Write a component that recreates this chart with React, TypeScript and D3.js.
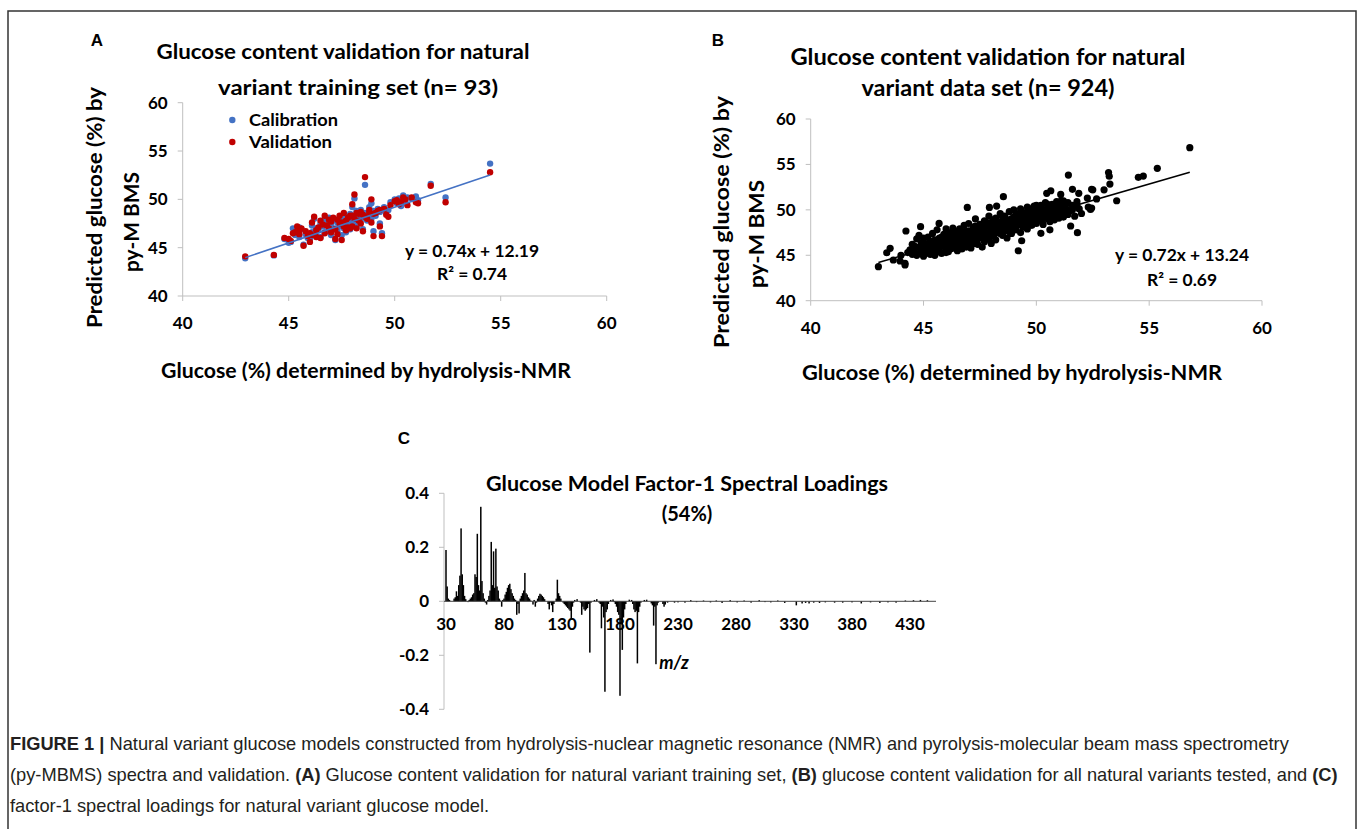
import * as d3 from "d3";
import { useLayoutEffect, useRef, useState } from "react";

// ---- Panel A: training set (x = NMR glucose, calibration / validation predictions)
const trainNmr = [
  42.95, 44.3, 44.8, 45.0, 45.1, 45.2, 45.3, 45.4, 45.5, 45.6, 45.7, 45.8, 45.9, 46.0, 46.1, 46.1,
  46.2, 46.3, 46.3, 46.4, 46.5, 46.5, 46.6, 46.7, 46.7, 46.8, 46.9, 46.9, 47.0, 47.0, 47.1, 47.2,
  47.2, 47.3, 47.3, 47.4, 47.4, 47.5, 47.5, 47.6, 47.6, 47.7, 47.7, 47.8, 47.8, 47.9, 47.9, 48.0,
  48.0, 48.1, 48.1, 48.2, 48.2, 48.3, 48.3, 48.4, 48.4, 48.5, 48.5, 48.6, 48.6, 48.7, 48.8, 48.8,
  48.9, 48.9, 49.0, 49.0, 49.1, 49.2, 49.3, 49.3, 49.4, 49.5, 49.6, 49.7, 49.8, 50.0, 50.1, 50.2,
  50.3, 50.4, 50.5, 50.6, 50.8, 51.0, 51.1, 51.7, 52.4, 54.5, 46.0, 45.5, 48.0,
];
const trainCalibration = [
  43.9, 44.2, 45.9, 45.5, 45.6, 47.0, 46.3, 46.8, 46.1, 46.9, 45.3, 46.4, 46.0, 46.3, 47.3, 46.6,
  48.0, 46.2, 47.0, 46.8, 47.5, 46.1, 47.2, 48.0, 46.6, 47.6, 46.9, 48.1, 47.4, 46.3, 47.8, 47.0,
  45.8, 47.6, 46.7, 48.1, 47.2, 47.8, 46.3, 48.4, 47.0, 47.5, 46.6, 47.9, 47.3, 48.5, 46.9, 48.0,
  47.4, 50.1, 47.7, 48.8, 47.2, 48.3, 47.6, 48.9, 47.9, 46.9, 48.2, 51.5, 48.6, 47.8, 49.2, 48.4,
  48.0, 49.6, 46.7, 48.8, 48.3, 49.0, 47.5, 48.7, 46.5, 49.2, 48.7, 48.9, 49.7, 50.0, 49.6, 50.1,
  49.3, 50.4, 49.8, 50.2, 50.1, 50.3, 49.9, 51.6, 50.2, 53.7, 45.9, 47.1, 49.2,
];
const trainValidation = [
  44.1, 44.25, 46.0, 45.9, 45.7, 46.5, 46.6, 47.2, 46.4, 47.0, 45.2, 46.7, 46.2, 46.5, 47.6, 46.3,
  48.2, 46.1, 46.8, 47.1, 47.8, 46.0, 47.4, 48.3, 46.5, 47.3, 47.0, 47.9, 47.7, 46.6, 48.1, 46.9,
  45.9, 47.9, 46.4, 48.3, 47.5, 47.6, 45.8, 48.6, 47.2, 47.8, 46.8, 48.1, 47.1, 48.3, 47.0, 48.3,
  47.2, 50.5, 48.0, 48.6, 47.0, 48.5, 47.8, 48.7, 47.5, 46.7, 48.4, 52.3, 48.2, 48.0, 48.9, 48.6,
  47.6, 50.0, 46.2, 48.5, 48.6, 48.8, 47.2, 48.9, 46.2, 49.0, 48.4, 48.2, 49.4, 49.8, 49.9, 49.5,
  49.7, 50.2, 50.0, 49.4, 50.2, 49.7, 49.6, 51.4, 49.7, 52.8, 45.6, 46.8, 49.5,
];
const fitA = { slope: 0.74, intercept: 12.19, r2: 0.74 };

// ---- Panel B: all natural variants [NMR glucose, predicted glucose]
const allVariants: [number, number][] = [
  [44.4, 45.6], [44.5, 45.1], [44.5, 46.2], [44.6, 45.4], [44.7, 46.8], [44.7, 45.0], [44.8, 45.9],
  [44.8, 47.2], [44.9, 45.3], [44.9, 46.4], [45.0, 45.8], [45.0, 44.9], [45.0, 46.9],
  [45.1, 46.2], [45.1, 45.2], [45.2, 47.0], [45.2, 45.7], [45.3, 46.5], [45.3, 45.1], [45.4, 46.0],
  [45.4, 47.4], [45.5, 45.5], [45.5, 46.7], [45.5, 45.0], [45.6, 46.3], [45.6, 47.8], [45.7, 45.4],
  [45.7, 46.9], [45.8, 46.1], [45.8, 45.2], [45.9, 47.3], [45.9, 46.6], [46.0, 45.6], [46.0, 46.2],
  [46.0, 47.9], [46.1, 46.9], [46.1, 45.4], [46.2, 47.5], [46.2, 46.1], [46.3, 45.8], [46.3, 48.0],
  [46.4, 46.7], [46.4, 47.2], [46.5, 45.5], [46.5, 46.4], [46.6, 47.9], [46.6, 47.0], [46.7, 46.2],
  [46.7, 45.7], [46.8, 47.6], [46.8, 48.3], [46.9, 46.6], [46.9, 45.9], [47.0, 47.3], [47.0, 48.5],
  [47.0, 46.4], [47.1, 47.0], [47.1, 45.8], [47.2, 48.1], [47.2, 46.6], [47.3, 47.6], [47.3, 49.0],
  [47.4, 46.2], [47.4, 47.3], [47.5, 48.4], [47.5, 46.9], [47.6, 47.8], [47.6, 45.9], [47.7, 48.8],
  [47.7, 46.5], [47.8, 47.4], [47.8, 48.2], [47.9, 46.8], [47.9, 49.3], [48.0, 47.6], [48.0, 48.6],
  [48.0, 46.3], [48.1, 48.1], [48.1, 47.1], [48.2, 49.1], [48.2, 46.7], [48.3, 48.4], [48.3, 47.5],
  [48.4, 49.6], [48.4, 48.0], [48.5, 47.2], [48.5, 48.8], [48.6, 49.3], [48.6, 47.7], [48.7, 48.4],
  [48.7, 46.9], [48.8, 49.8], [48.8, 48.0], [48.9, 48.7], [48.9, 47.4], [49.0, 49.2], [49.0, 48.2],
  [49.0, 50.0], [49.1, 47.8], [49.1, 48.9], [49.2, 49.6], [49.2, 48.4], [49.3, 47.5], [49.3, 50.1],
  [49.4, 49.0], [49.4, 48.1], [49.5, 49.7], [49.5, 48.6], [49.6, 50.3], [49.6, 47.9], [49.7, 49.3],
  [49.7, 48.8], [49.8, 50.0], [49.8, 48.3], [49.9, 49.6], [49.9, 50.4], [50.0, 49.1], [50.0, 48.5],
  [50.0, 50.2], [50.1, 49.8], [50.1, 48.8], [50.2, 50.5], [50.2, 49.3], [50.3, 48.4], [50.3, 50.0],
  [50.4, 49.6], [50.4, 50.8], [50.5, 49.0], [50.5, 50.3], [50.6, 49.7], [50.6, 48.7], [50.7, 50.6],
  [50.7, 49.4], [50.8, 50.1], [50.8, 48.9], [50.9, 50.9], [50.9, 49.6], [51.0, 50.3], [51.0, 49.1],
  [51.1, 50.7], [51.1, 49.8], [51.2, 49.2], [51.2, 51.0], [51.3, 50.2], [51.4, 49.5], [51.4, 50.8],
  [51.5, 49.9], [51.6, 50.5], [51.7, 49.3], [51.8, 50.9], [51.9, 50.1], [52.0, 49.6],
  [45.2, 46.3], [45.6, 45.8], [45.9, 46.0], [46.2, 46.6], [46.5, 47.0], [46.8, 46.9], [47.1, 47.4],
  [47.4, 47.7], [47.7, 47.9], [48.0, 48.0], [48.3, 48.2], [48.6, 48.3], [48.9, 48.5], [49.2, 48.8],
  [49.5, 49.1], [49.8, 49.3], [50.1, 49.4], [50.4, 49.9], [50.7, 50.0], [51.0, 50.6],
  [45.4, 45.6], [45.7, 46.4], [46.0, 46.8], [46.3, 46.3], [46.6, 46.6], [46.9, 47.2], [47.2, 47.1],
  [47.5, 47.5], [47.8, 48.6], [48.1, 47.7], [48.4, 48.6], [48.7, 47.9], [49.0, 48.7], [49.3, 49.3],
  [49.6, 49.0], [49.9, 48.9], [50.2, 49.8], [50.5, 49.7], [50.8, 49.5],
  [46.1, 46.0], [46.4, 45.9], [46.7, 47.3], [47.0, 46.7], [47.3, 46.3], [47.6, 48.3], [47.9, 47.2],
  [48.2, 48.5], [48.5, 49.2], [48.8, 48.9], [49.1, 49.5], [49.4, 49.4], [49.7, 50.1], [50.0, 49.6],
  [50.3, 49.1],
  [45.3, 45.4], [45.5, 46.1], [45.8, 46.6], [46.0, 45.3], [46.2, 45.7], [46.4, 46.4], [46.6, 46.0],
  [46.8, 46.4], [47.0, 47.7], [47.2, 47.6], [47.4, 46.8], [47.6, 47.2], [47.8, 46.9], [48.0, 47.3],
  [48.2, 47.9], [48.4, 47.4], [48.6, 48.7], [48.8, 47.6], [49.0, 47.9], [49.2, 49.1], [49.4, 48.7],
  [49.6, 48.5], [49.8, 49.7], [50.0, 50.5], [50.2, 49.0], [50.4, 49.3], [50.6, 50.1], [50.8, 50.4],
  [51.0, 49.9], [51.2, 50.5],
  [45.1, 45.9], [45.4, 46.5], [45.7, 45.7], [46.0, 46.5], [46.3, 47.0], [46.6, 46.3], [46.9, 47.6],
  [47.2, 46.3], [47.5, 48.0], [47.8, 47.0], [48.1, 48.9], [48.4, 47.7], [48.7, 48.1], [49.0, 48.4],
  [49.3, 48.9], [49.6, 49.6], [49.9, 49.2], [50.2, 50.2], [50.5, 50.6], [50.8, 49.8],
  [44.6, 46.0], [44.9, 45.7], [45.2, 45.4], [45.8, 47.0], [46.1, 47.2], [46.5, 47.6], [46.9, 46.1],
  [47.3, 48.2], [47.7, 47.2], [48.1, 47.4], [48.5, 47.9], [48.9, 49.0], [49.3, 48.6], [49.7, 48.5],
  [50.1, 50.0], [50.5, 49.4], [50.9, 50.2], [51.3, 49.9], [51.6, 50.0], [51.8, 50.4],
  // scattered points and outliers
  [56.8, 56.84], [55.36, 54.57], [54.74, 53.72], [54.52, 53.58], [53.2, 54.1], [53.23, 53.7],
  [51.42, 53.83], [52.45, 52.26], [52.5, 52.2], [51.6, 52.26], [51.88, 51.82], [53.26, 52.84],
  [53.0, 52.2], [53.56, 51.0], [52.67, 51.2], [52.3, 50.3], [52.45, 50.2], [52.4, 50.05],
  [52.26, 51.3], [51.52, 48.22], [51.82, 47.49], [50.2, 47.42], [49.35, 46.6], [49.2, 45.5],
  [48.54, 51.45], [48.24, 50.42], [47.92, 50.27], [46.94, 50.27], [45.69, 48.51], [44.87, 48.15],
  [44.22, 47.67], [43.52, 45.76], [43.37, 45.28], [43.0, 43.74], [43.66, 44.48], [43.96, 44.37],
  [44.18, 44.11], [44.18, 43.93], [44.7, 45.14], [44.3, 45.3], [50.46, 51.82], [50.64, 52.1],
  [51.08, 51.7], [51.1, 51.0], [51.2, 49.9], [51.35, 49.75], [50.6, 47.8], [44.0, 45.0],
];
const fitB = { slope: 0.72, intercept: 13.24, r2: 0.69 };

// ---- Panel C: factor-1 spectral loadings (m/z, loading); unlisted m/z are ~0
const loadMz = [
  30, 31, 32, 33, 37, 38, 39, 40, 41, 42, 43, 44, 45, 46, 47, 49,
  50, 51, 52, 53, 54, 55, 56, 57, 58, 59, 60, 61, 62, 63, 64, 65,
  66, 67, 68, 69, 70, 71, 72, 73, 74, 75, 76, 77, 78, 79,
  80, 81, 82, 83, 84, 85, 86, 87, 88, 89, 90, 91, 92, 93,
  94, 95, 96, 97, 98, 99, 100, 101, 102, 103, 105, 106, 107, 108,
  109, 110, 111, 112, 113, 114, 115, 118, 119, 120, 121, 122, 123,
  125, 126, 127, 128, 129, 131, 132, 133, 134, 135, 136, 137, 138, 139, 140, 141, 143,
  146, 147, 148, 149, 150, 151, 152, 153, 154, 155, 158, 160,
  162, 163, 164, 165, 166, 167, 168, 169, 170, 172, 174, 175,
  176, 177, 178, 179, 180, 181, 182, 183, 184, 185, 188, 190,
  191, 192, 193, 194, 195, 196, 197, 198, 201, 203,
  207, 208, 209, 210, 211, 212, 213, 217, 218, 219, 221, 227, 230,
  236, 241, 246, 252, 258, 263, 268, 275, 281, 287, 293, 300, 305, 310, 316, 322, 332,
  337, 340, 343, 347, 352, 357, 365, 372, 380, 388, 396, 404, 411, 418, 426, 433, 439, 445,
];
const loadValue = [
  0.19, 0.055, 0.01, 0.005, 0.01, 0.015, 0.037, 0.02, 0.06, 0.095, 0.27, 0.1, 0.06, 0.02, 0.008, -0.003,
  0.005, 0.01, 0.015, 0.025, 0.03, 0.1, 0.09, 0.25, 0.06, 0.04, 0.35, 0.075, 0.03, 0.01, -0.005, -0.012,
  0.005, 0.02, 0.04, 0.22, 0.06, 0.185, 0.05, 0.195, 0.055, 0.04, 0.01, 0.003, -0.02, 0.005,
  0.01, 0.025, 0.035, 0.05, 0.06, 0.065, 0.045, 0.03, 0.02, 0.01, 0.005, -0.05, -0.01, -0.045,
  0.01, 0.02, 0.03, 0.04, 0.105, 0.03, 0.025, 0.015, 0.01, 0.003, -0.012, 0.005, -0.02, -0.005,
  0.01, 0.02, 0.028, 0.025, 0.02, 0.015, 0.008, -0.01, -0.03, -0.005, -0.015, -0.04, -0.01,
  0.01, 0.08, 0.03, 0.02, 0.01, -0.005, -0.01, -0.015, -0.02, -0.025, -0.03, -0.035, -0.065, -0.02, -0.005, 0.005, 0.008,
  -0.005, -0.05, -0.02, -0.03, -0.035, -0.03, -0.025, -0.01, -0.19, -0.005, 0.005, 0.008,
  -0.005, -0.01, -0.1, -0.02, -0.06, -0.335, -0.04, -0.03, -0.01, 0.005, 0.007, -0.003,
  -0.01, -0.02, -0.04, -0.05, -0.35, -0.08, -0.18, -0.06, -0.03, -0.01, 0.006, 0.005,
  -0.01, -0.03, -0.04, -0.035, -0.23, -0.04, -0.02, -0.005, 0.005, 0.006,
  -0.008, -0.015, -0.09, -0.02, -0.233, -0.015, -0.005, -0.01, -0.02, -0.012, -0.005, -0.005, -0.004,
  -0.005, 0.004, -0.003, 0.003, -0.004, 0.003, -0.006, 0.004, -0.004, 0.003, -0.005, 0.004, -0.003, -0.004, 0.003, -0.006, -0.015,
  -0.008, -0.006, -0.008, -0.005, -0.006, -0.004, -0.005, -0.005, -0.004, -0.008, -0.004, -0.006, -0.004, -0.005, 0.003, 0.004, 0.005, 0.004,
];

const scatterTicks = [40, 45, 50, 55, 60];
const loadTicksY = [0.4, 0.2, 0, -0.2, -0.4];
const loadTicksX = [30, 80, 130, 180, 230, 280, 330, 380, 430];

const FONT = "Lato, 'Open Sans', sans-serif";
const AXIS_GRAY = "#bfbfbf";
const CAPTION_WIDTH = 1280; // width of the first caption line in the reference

type ScatterAxesProps = {
  x: d3.ScaleLinear<number, number>;
  y: d3.ScaleLinear<number, number>;
};

function ScatterAxes({ x, y }: ScatterAxesProps) {
  const x0 = x(40);
  const y0 = y(40);
  return (
    <g>
      <line x1={x0} x2={x0} y1={y(60)} y2={y0} stroke={AXIS_GRAY} />
      <line x1={x0} x2={x(60)} y1={y0} y2={y0} stroke={AXIS_GRAY} />
      {scatterTicks.map((t) => (
        <g key={"y" + t}>
          <line x1={x0 - 5} x2={x0} y1={y(t)} y2={y(t)} stroke={AXIS_GRAY} />
          <text x={x0 - 15} y={y(t)} dy="0.35em" textAnchor="end" fontSize={17} fontWeight="bold">
            {t}
          </text>
        </g>
      ))}
      {scatterTicks.map((t) => (
        <g key={"x" + t}>
          <line x1={x(t)} x2={x(t)} y1={y0} y2={y0 + 5} stroke={AXIS_GRAY} />
          <text x={x(t)} y={y0 + 27} dy="0.35em" textAnchor="middle" fontSize={17} fontWeight="bold">
            {t}
          </text>
        </g>
      ))}
    </g>
  );
}

export default function App() {
  // caption is squeezed horizontally to mimic the condensed journal font
  const firstLine = useRef<SVGTextElement>(null);
  const [captionScale, setCaptionScale] = useState(1);
  useLayoutEffect(() => {
    if (!firstLine.current) return;
    const w = firstLine.current.getComputedTextLength();
    if (w > 0) setCaptionScale(CAPTION_WIDTH / w);
  }, []);

  // panel A
  const xA = d3.scaleLinear().domain([40, 60]).range([182.7, 606.7]);
  const yA = d3.scaleLinear().domain([40, 60]).range([296, 102.7]);
  const extA = d3.extent(trainNmr) as [number, number];
  const lineA = d3
    .line<number>()
    .x((d) => xA(d))
    .y((d) => yA(fitA.slope * d + fitA.intercept));

  // panel B
  const xB = d3.scaleLinear().domain([40, 60]).range([810.7, 1262]);
  const yB = d3.scaleLinear().domain([40, 60]).range([300.7, 119]);
  const extB = d3.extent(allVariants, (d) => d[0]) as [number, number];
  const lineB = d3
    .line<number>()
    .x((d) => xB(d))
    .y((d) => yB(fitB.slope * d + fitB.intercept));

  // panel C
  const xC = d3.scaleLinear().domain([30, 450]).range([446, 933.2]);
  const yC = d3.scaleLinear().domain([-0.4, 0.4]).range([709.3, 493.3]);
  const zeroY = yC(0);
  const barW = 1.5;

  return (
    <svg
      width={1358}
      height={829}
      style={{ position: "absolute", left: 0, top: 0, background: "#fff" }}
      fontFamily={FONT}
    >
      <rect x={8} y={11} width={1348} height={840} fill="none" stroke="#333" strokeWidth={1.5} />

      {/* ---------- Panel A ---------- */}
      <text x={97} y={40} dy="0.35em" textAnchor="middle" fontFamily="'Liberation Sans', Arial" fontWeight="bold" fontSize={17}>
        A
      </text>
      <text x={343} y={52} dy="0.35em" textAnchor="middle" fontWeight="bold" fontSize={21} textLength={373} lengthAdjust="spacingAndGlyphs">
        Glucose content validation for natural
      </text>
      <text x={358} y={88} dy="0.35em" textAnchor="middle" fontWeight="bold" fontSize={21} textLength={280} lengthAdjust="spacingAndGlyphs">
        variant training set (n= 93)
      </text>
      <ScatterAxes x={xA} y={yA} />
      <text transform="translate(95,207.5) rotate(-90)" dy="0.35em" textAnchor="middle" fontWeight="bold" fontSize={21} textLength={241} lengthAdjust="spacingAndGlyphs">
        Predicted glucose (%) by
      </text>
      <text transform="translate(132,222) rotate(-90)" dy="0.35em" textAnchor="middle" fontWeight="bold" fontSize={21} textLength={100} lengthAdjust="spacingAndGlyphs">
        py-M BMS
      </text>
      <text x={366} y={371} dy="0.35em" textAnchor="middle" fontWeight="bold" fontSize={21} textLength={410} lengthAdjust="spacingAndGlyphs">
        Glucose (%) determined by hydrolysis-NMR
      </text>
      {trainNmr.map((v, i) => (
        <circle key={"c" + i} cx={xA(v)} cy={yA(trainCalibration[i])} r={3.2} fill="#4472C4" />
      ))}
      {trainNmr.map((v, i) => (
        <circle key={"v" + i} cx={xA(v)} cy={yA(trainValidation[i])} r={3.2} fill="#C00000" />
      ))}
      <path d={lineA(extA) || ""} fill="none" stroke="#4472C4" strokeWidth={1.5} />
      <circle cx={232.3} cy={120} r={3.2} fill="#4472C4" />
      <text x={249} y={120} dy="0.35em" fontWeight="bold" fontSize={17} textLength={89} lengthAdjust="spacingAndGlyphs">
        Calibration
      </text>
      <circle cx={232.3} cy={142} r={3.2} fill="#C00000" />
      <text x={249} y={142} dy="0.35em" fontWeight="bold" fontSize={17} textLength={83} lengthAdjust="spacingAndGlyphs">
        Validation
      </text>
      <text x={472} y={251} dy="0.35em" textAnchor="middle" fontWeight="bold" fontSize={17} textLength={134} lengthAdjust="spacingAndGlyphs">
        {`y = ${fitA.slope}x + ${fitA.intercept}`}
      </text>
      <text x={472} y={274} dy="0.35em" textAnchor="middle" fontWeight="bold" fontSize={17} textLength={70} lengthAdjust="spacingAndGlyphs">
        {`R² = ${fitA.r2}`}
      </text>

      {/* ---------- Panel B ---------- */}
      <text x={718} y={40} dy="0.35em" textAnchor="middle" fontFamily="'Liberation Sans', Arial" fontWeight="bold" fontSize={17}>
        B
      </text>
      <text x={988} y={57} dy="0.35em" textAnchor="middle" fontWeight="bold" fontSize={22} textLength={395} lengthAdjust="spacingAndGlyphs">
        Glucose content validation for natural
      </text>
      <text x={988} y={88} dy="0.35em" textAnchor="middle" fontWeight="bold" fontSize={22} textLength={253} lengthAdjust="spacingAndGlyphs">
        variant data set (n= 924)
      </text>
      <ScatterAxes x={xB} y={yB} />
      <text transform="translate(722,222) rotate(-90)" dy="0.35em" textAnchor="middle" fontWeight="bold" fontSize={21} textLength={252} lengthAdjust="spacingAndGlyphs">
        Predicted glucose (%) by
      </text>
      <text transform="translate(757,234) rotate(-90)" dy="0.35em" textAnchor="middle" fontWeight="bold" fontSize={21} textLength={108} lengthAdjust="spacingAndGlyphs">
        py-M BMS
      </text>
      <text x={1012} y={373} dy="0.35em" textAnchor="middle" fontWeight="bold" fontSize={21} textLength={420} lengthAdjust="spacingAndGlyphs">
        Glucose (%) determined by hydrolysis-NMR
      </text>
      {allVariants.map((d, i) => (
        <circle key={"b" + i} cx={xB(d[0])} cy={yB(d[1])} r={3.6} fill="#000" />
      ))}
      <path d={lineB(extB) || ""} fill="none" stroke="#000" strokeWidth={1.5} />
      <text x={1182} y={255} dy="0.35em" textAnchor="middle" fontWeight="bold" fontSize={17} textLength={134} lengthAdjust="spacingAndGlyphs">
        {`y = ${fitB.slope}x + ${fitB.intercept}`}
      </text>
      <text x={1182} y={280} dy="0.35em" textAnchor="middle" fontWeight="bold" fontSize={17} textLength={70} lengthAdjust="spacingAndGlyphs">
        {`R² = ${fitB.r2}`}
      </text>

      {/* ---------- Panel C ---------- */}
      <text x={404} y={438} dy="0.35em" textAnchor="middle" fontFamily="'Liberation Sans', Arial" fontWeight="bold" fontSize={17}>
        C
      </text>
      <text x={687} y={484} dy="0.35em" textAnchor="middle" fontWeight="bold" fontSize={20} textLength={402} lengthAdjust="spacingAndGlyphs">
        Glucose Model Factor-1 Spectral Loadings
      </text>
      <text x={687} y={514} dy="0.35em" textAnchor="middle" fontWeight="bold" fontSize={20}>
        (54%)
      </text>
      <line x1={444} x2={444} y1={yC(0.4)} y2={yC(-0.4)} stroke={AXIS_GRAY} />
      {loadTicksY.map((t) => (
        <g key={"cy" + t}>
          <line x1={439} x2={444} y1={yC(t)} y2={yC(t)} stroke={AXIS_GRAY} />
          <text x={429} y={yC(t)} dy="0.35em" textAnchor="end" fontWeight="bold" fontSize={17}>
            {String(t)}
          </text>
        </g>
      ))}
      {loadMz.map((mz, i) => {
        const yv = yC(loadValue[i]);
        return (
          <rect
            key={"s" + i}
            x={xC(mz) - barW / 2}
            y={Math.min(yv, zeroY)}
            width={barW}
            height={Math.max(Math.abs(yv - zeroY), 0.8)}
            fill="#000"
          />
        );
      })}
      <line x1={444} x2={936} y1={zeroY} y2={zeroY} stroke="#444" strokeWidth={1} />
      {loadTicksX.map((t) => (
        <text key={"cx" + t} x={xC(t)} y={624} dy="0.35em" textAnchor="middle" fontWeight="bold" fontSize={17}>
          {t}
        </text>
      ))}
      <text x={674} y={663} dy="0.35em" textAnchor="middle" fontWeight="bold" fontStyle="italic" fontSize={18}>
        m/z
      </text>

      {/* ---------- Caption ---------- */}
      <g
        transform={`translate(10,0) scale(${captionScale},1)`}
        fontFamily="'Liberation Sans', Arial, sans-serif"
        fontSize={19}
        fill="#231f20"
      >
        <text ref={firstLine} x={0} y={750}>
          <tspan fontWeight="bold">FIGURE 1 |</tspan> Natural variant glucose models constructed from hydrolysis-nuclear magnetic resonance (NMR) and pyrolysis-molecular beam mass spectrometry
        </text>
        <text x={0} y={781}>
          (py-MBMS) spectra and validation. <tspan fontWeight="bold">(A)</tspan> Glucose content validation for natural variant training set,{" "}
          <tspan fontWeight="bold">(B)</tspan> glucose content validation for all natural variants tested, and{" "}
          <tspan fontWeight="bold">(C)</tspan>
        </text>
        <text x={0} y={812}>
          factor-1 spectral loadings for natural variant glucose model.
        </text>
      </g>
    </svg>
  );
}
